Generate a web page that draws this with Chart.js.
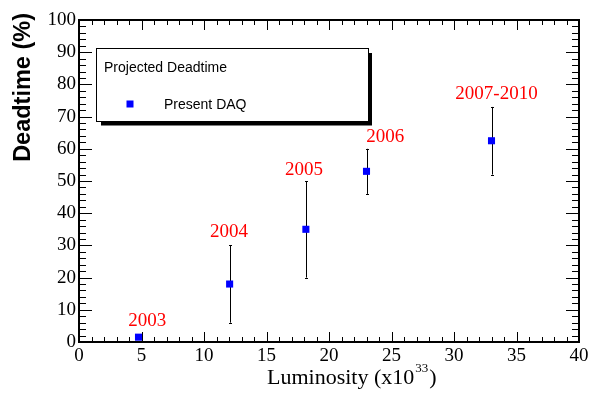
<!DOCTYPE html>
<html>
<head>
<meta charset="utf-8">
<script src="https://cdn.jsdelivr.net/npm/chart.js@4.4.1/dist/chart.umd.min.js"></script>
<style>
  html, body { margin: 0; padding: 0; background: #fff; }
  canvas { display: block; }
</style>
</head>
<body>
<canvas id="deadtime" width="589" height="395"></canvas>
<script>
(function () {
    // luminosity in units of 1e33, deadtime in %
    const luminosity = [4.76, 12.05, 18.15, 23.0, 33.0];
    const deadtime = [1.5, 18, 35, 53, 62.5];
    const errLow = [1.5, 6, 20, 46, 52];
    const errHigh = [1.5, 30, 50, 60, 73];
    const periods = ['2003', '2004', '2005', '2006', '2007-2010'];
    // where each period label sits (data units, x = centre, y = baseline)
    const periodLabelX = [5.45, 12.0, 18.0, 24.5, 33.4];
    const periodLabelY = [4.9, 32.5, 52, 62, 75.6];

    const xTickStep = 5;
    const yTickStep = 10;
    const xMinorStep = 1;
    const yMinorStep = 2;

    const legendTitle = 'Projected Deadtime';
    const seriesName = 'Present DAQ';
    const yTitle = 'Deadtime (%)';

    const serif = '"Liberation Serif", "DejaVu Serif", serif';
    const sans = '"Liberation Sans", Arial, sans-serif';

    const points = luminosity.map(function (x, i) {
        return { x: x, y: deadtime[i] };
    });

    const rootStyle = {
        id: 'rootStyle',
        beforeDatasetsDraw: function (chart) {
            const ctx = chart.ctx;
            const xs = chart.scales.x;
            const ys = chart.scales.y;
            const area = chart.chartArea;

            ctx.save();
            ctx.strokeStyle = '#000';

            // inward ticks, y
            ctx.lineWidth = 1;
            ctx.beginPath();
            for (let v = ys.min; v <= ys.max + 1e-9; v += yMinorStep) {
                const py = Math.round(ys.getPixelForValue(v)) + 0.5;
                const len = (Math.abs(v % yTickStep) < 1e-9) ? 13 : 7;
                ctx.moveTo(area.left, py);
                ctx.lineTo(area.left + len, py);
                ctx.moveTo(area.right, py);
                ctx.lineTo(area.right - len, py);
            }
            // inward ticks, x
            for (let v = xs.min; v <= xs.max + 1e-9; v += xMinorStep) {
                const px = Math.round(xs.getPixelForValue(v)) + 0.5;
                const len = (Math.abs(v % xTickStep) < 1e-9) ? 10 : 5;
                ctx.moveTo(px, area.bottom);
                ctx.lineTo(px, area.bottom - len);
                ctx.moveTo(px, area.top);
                ctx.lineTo(px, area.top + len);
            }
            ctx.stroke();

            // frame
            ctx.lineWidth = 2;
            ctx.strokeRect(Math.round(area.left), Math.round(area.top),
                Math.round(area.right - area.left), Math.round(area.bottom - area.top));

            // error bars
            ctx.lineWidth = 1;
            ctx.beginPath();
            luminosity.forEach(function (x, i) {
                if (errHigh[i] - errLow[i] <= 0) {
                    return;
                }
                const px = Math.round(xs.getPixelForValue(x)) + 0.5;
                const top = ys.getPixelForValue(errHigh[i]);
                const bot = ys.getPixelForValue(errLow[i]);
                ctx.moveTo(px, top);
                ctx.lineTo(px, bot);
                ctx.moveTo(px - 1.5, Math.round(top) + 0.5);
                ctx.lineTo(px + 1.5, Math.round(top) + 0.5);
                ctx.moveTo(px - 1.5, Math.round(bot) + 0.5);
                ctx.lineTo(px + 1.5, Math.round(bot) + 0.5);
            });
            ctx.stroke();
            ctx.restore();
        },
        afterDraw: function (chart) {
            const ctx = chart.ctx;
            const xs = chart.scales.x;
            const ys = chart.scales.y;

            ctx.save();

            // period labels
            ctx.fillStyle = '#ff0000';
            ctx.font = '19px ' + serif;
            ctx.textAlign = 'center';
            ctx.textBaseline = 'alphabetic';
            periods.forEach(function (txt, i) {
                ctx.fillText(txt, xs.getPixelForValue(periodLabelX[i]), ys.getPixelForValue(periodLabelY[i]));
            });

            // legend box with shadow
            ctx.fillStyle = '#000';
            ctx.fillRect(101, 53, 271, 72.5);
            ctx.fillStyle = '#fff';
            ctx.fillRect(96.5, 48.5, 272, 73);
            ctx.strokeStyle = '#000';
            ctx.lineWidth = 1;
            ctx.strokeRect(96.5, 48.5, 272, 73);

            ctx.fillStyle = '#000';
            ctx.font = '14px ' + sans;
            ctx.textAlign = 'left';
            ctx.fillText(legendTitle, 104, 72);
            ctx.fillText(seriesName, 164, 108.5);
            ctx.fillStyle = '#0000ff';
            ctx.fillRect(126.5, 100.5, 7, 7);

            // y title, ROOT style: right aligned to the top
            ctx.fillStyle = '#000';
            ctx.font = 'bold 23.5px ' + sans;
            ctx.translate(29.5, 13);
            ctx.rotate(-Math.PI / 2);
            ctx.textAlign = 'right';
            ctx.fillText(yTitle, 0, 0);
            ctx.setTransform(1, 0, 0, 1, 0, 0);

            // x title with superscript
            ctx.font = '22px ' + serif;
            ctx.textAlign = 'left';
            let cx = 267;
            const base = 384;
            const main = 'Luminosity (x10';
            ctx.fillText(main, cx, base);
            cx += ctx.measureText(main).width;
            ctx.font = '13px ' + serif;
            ctx.fillText('33', cx + 1, base - 12);
            cx += ctx.measureText('33').width + 2;
            ctx.font = '22px ' + serif;
            ctx.fillText(')', cx, base);

            ctx.restore();
        }
    };

    new Chart(document.getElementById('deadtime'), {
        type: 'scatter',
        data: {
            datasets: [{
                label: seriesName,
                data: points,
                pointStyle: 'rect',
                pointRadius: 5,
                pointBorderWidth: 0,
                backgroundColor: '#0000ff',
                borderColor: '#0000ff'
            }]
        },
        options: {
            responsive: false,
            animation: false,
            layout: {
                padding: { top: 20, right: 10, left: 0, bottom: 0 }
            },
            scales: {
                x: {
                    type: 'linear',
                    min: 0,
                    max: 40,
                    grid: { display: false, drawTicks: false },
                    border: { display: false },
                    ticks: {
                        stepSize: xTickStep,
                        color: '#000',
                        padding: 3,
                        maxRotation: 0,
                        font: { family: serif, size: 19 }
                    },
                    afterFit: function (scale) {
                        scale.height = 53;
                        scale.paddingLeft = 0;
                        scale.paddingRight = 0;
                    }
                },
                y: {
                    type: 'linear',
                    min: 0,
                    max: 100,
                    grid: { display: false, drawTicks: false },
                    border: { display: false },
                    ticks: {
                        stepSize: yTickStep,
                        color: '#000',
                        padding: 3,
                        font: { family: serif, size: 19 }
                    },
                    afterFit: function (scale) {
                        scale.width = 79;
                        scale.paddingTop = 0;
                        scale.paddingBottom = 0;
                    }
                }
            },
            plugins: {
                legend: { display: false },
                tooltip: { enabled: false }
            }
        },
        plugins: [rootStyle]
    });
})();
</script>
</body>
</html>
